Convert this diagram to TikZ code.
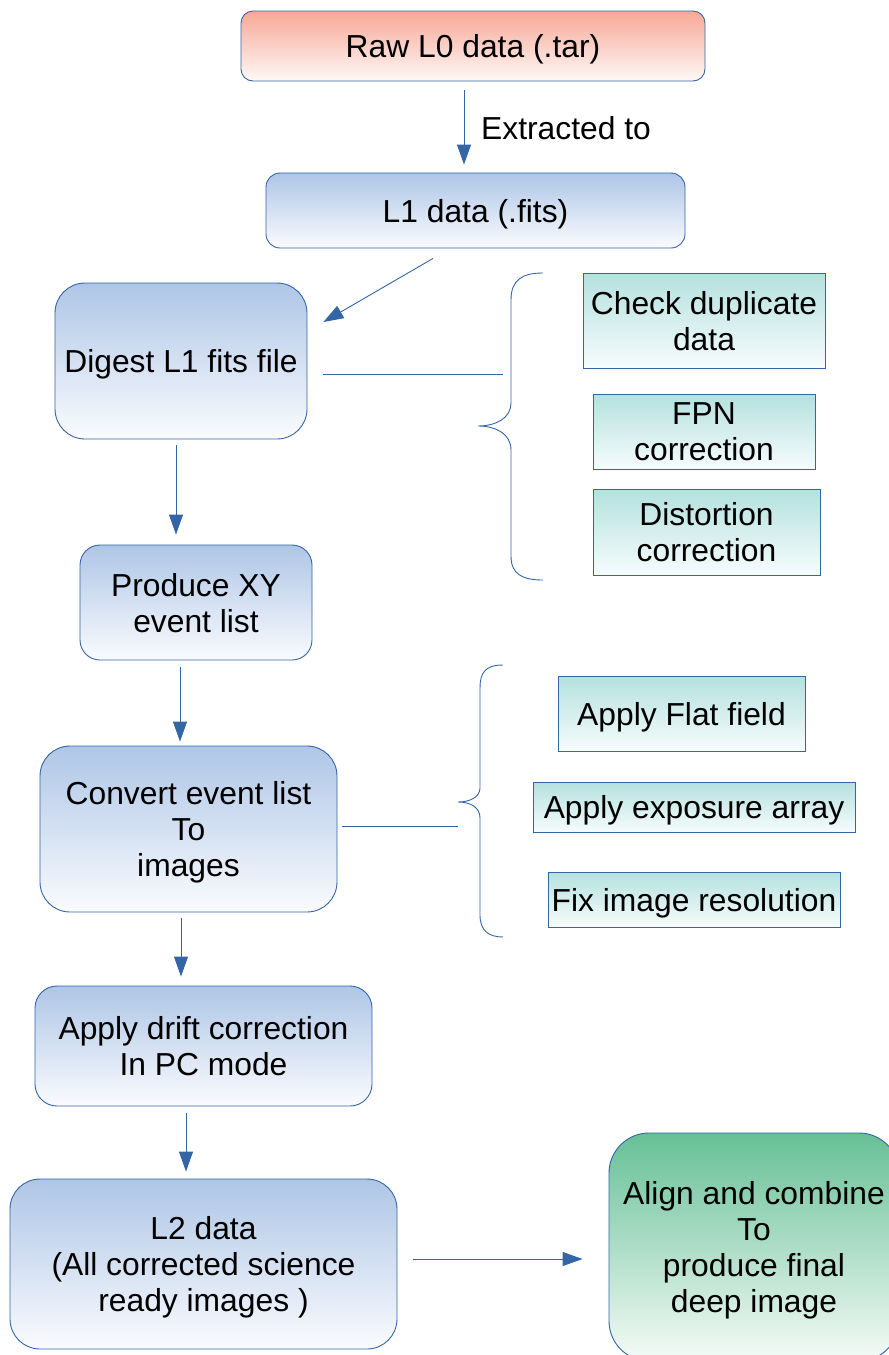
\documentclass[tikz,border=0pt]{standalone}
\usepackage{fontspec}
\setmainfont{Liberation Sans}
\usetikzlibrary{arrows.meta,calc}
\definecolor{edge}{RGB}{52,101,164}
\definecolor{salmon}{RGB}{247,168,150}
\definecolor{salmonlow}{RGB}{255,248,246}
\definecolor{bluetop}{RGB}{174,198,230}
\definecolor{bluelow}{RGB}{250,251,254}
\definecolor{tealtop}{RGB}{180,225,223}
\definecolor{teallow}{RGB}{246,252,252}
\definecolor{greentop}{RGB}{102,192,150}
\definecolor{greenlow}{RGB}{245,251,247}
\tikzset{
  box/.style={draw=edge, line width=0.9pt, inner sep=0pt, align=center, text depth=0pt,
    font=\fontsize{31.8}{36}\selectfont, top color=bluetop, bottom color=bluelow},
  tealbox/.style={box, top color=tealtop, bottom color=teallow},
  arr/.style={draw=edge, line width=0.9pt, -{Triangle[length=20pt,width=14pt]}},
  plain/.style={draw=edge, line width=0.9pt},
  lbl/.style={font=\fontsize{31.8}{36}\selectfont, inner sep=0pt}
}
\begin{document}
\begin{tikzpicture}[x=1pt,y=-1pt]
\useasboundingbox (0,0) rectangle (889,1355);
% main chain
\node[box, rounded corners=12pt, minimum width=464pt, minimum height=70pt,
  top color=salmon, bottom color=salmonlow] (raw) at (473,46) {Raw L0 data (.tar)};
\node[box, rounded corners=14pt, minimum width=419pt, minimum height=75pt] (l1) at (475.5,210.5) {L1 data (.fits)};
\node[box, rounded corners=30pt, minimum width=252pt, minimum height=156pt] (digest) at (181,361) {Digest L1 fits file};
\node[box, rounded corners=20pt, minimum width=232pt, minimum height=115pt] (xy) at (196,602.5) {Produce XY\\event list};
\node[box, rounded corners=30pt, minimum width=297pt, minimum height=166pt] (conv) at (188.5,829) {Convert event list\\To\\images};
\node[box, rounded corners=22pt, minimum width=337pt, minimum height=120pt] (drift) at (203.5,1046) {Apply drift correction\\In PC mode};
\node[box, rounded corners=30pt, minimum width=387pt, minimum height=170pt] (l2) at (203.5,1264) {L2 data\\(All corrected science\\ready images )};
\begin{scope}
\clip (0,0) rectangle (889,1355);
\node[box, rounded corners=40pt, minimum width=290pt, minimum height=228pt,
  top color=greentop, bottom color=greenlow] (final) at (754,1247) {Align and combine\\To\\produce final\\deep image};
\end{scope}
% side boxes
\node[tealbox, minimum width=242pt, minimum height=95pt] (dup) at (704,320.5) {Check duplicate\\data};
\node[tealbox, minimum width=222pt, minimum height=75pt] (fpn) at (704,431.5) {FPN\\correction};
\node[tealbox, minimum width=227pt, minimum height=86pt] (dist) at (706.5,532) {Distortion\\correction};
\node[tealbox, minimum width=247pt, minimum height=75pt] (flat) at (681.5,713.5) {Apply Flat field};
\node[tealbox, minimum width=322pt, minimum height=50pt] (expo) at (694,807) {Apply exposure array};
\node[tealbox, minimum width=292pt, minimum height=55pt] (res) at (694,899.5) {Fix image resolution};
% label
\node[lbl, anchor=west] (ext) at (481,128) {Extracted to};
% arrows
\draw[arr] ([xshift=-9pt,yshift=-9pt]raw.south) -- ([xshift=-11.5pt,yshift=8pt]l1.north);
\draw[arr] ([xshift=-42.5pt,yshift=-10pt]l1.south) -- ([xshift=16pt,yshift=39pt]digest.east);
\draw[arr] ([xshift=-5pt,yshift=-6pt]digest.south) -- ([xshift=-20pt,yshift=10pt]xy.north);
\draw[arr] ([xshift=-16pt,yshift=-7pt]xy.south) -- ([xshift=-8.5pt,yshift=4pt]conv.north);
\draw[arr] ([xshift=-7.5pt,yshift=-6pt]conv.south) -- ([xshift=-22.5pt,yshift=9pt]drift.north);
\draw[arr] ([xshift=-17.5pt,yshift=-7pt]drift.south) -- ([xshift=-17.5pt,yshift=7pt]l2.north);
\draw[arr] ([xshift=16pt,yshift=5pt]l2.east) -- ([xshift=-26pt,yshift=-12pt]final.west);
% braces and their lines
\coordinate (b1end) at (503,374);
\coordinate (b2end) at (458,826);
\draw[plain] ([xshift=16pt,yshift=-13pt]digest.east) -- (b1end);
\draw[plain] ([xshift=5pt,yshift=3pt]conv.east) -- (b2end);
\draw[plain] (543,273) .. controls (522,273) and (511,280) .. (511,300) -- (511,403)
  .. controls (511,418) and (496,426) .. (478,426)
  .. controls (496,426) and (511,434) .. (511,450) -- (511,556)
  .. controls (511,574) and (522,580) .. (543,580);
\draw[plain] (503,665) .. controls (485,665) and (480,673) .. (480,688) -- (480,788)
  .. controls (480,797) and (470,802) .. (458,802)
  .. controls (470,802) and (480,807) .. (480,818) -- (480,915)
  .. controls (480,930) and (488,937) .. (503,937);
\end{tikzpicture}
\end{document}
